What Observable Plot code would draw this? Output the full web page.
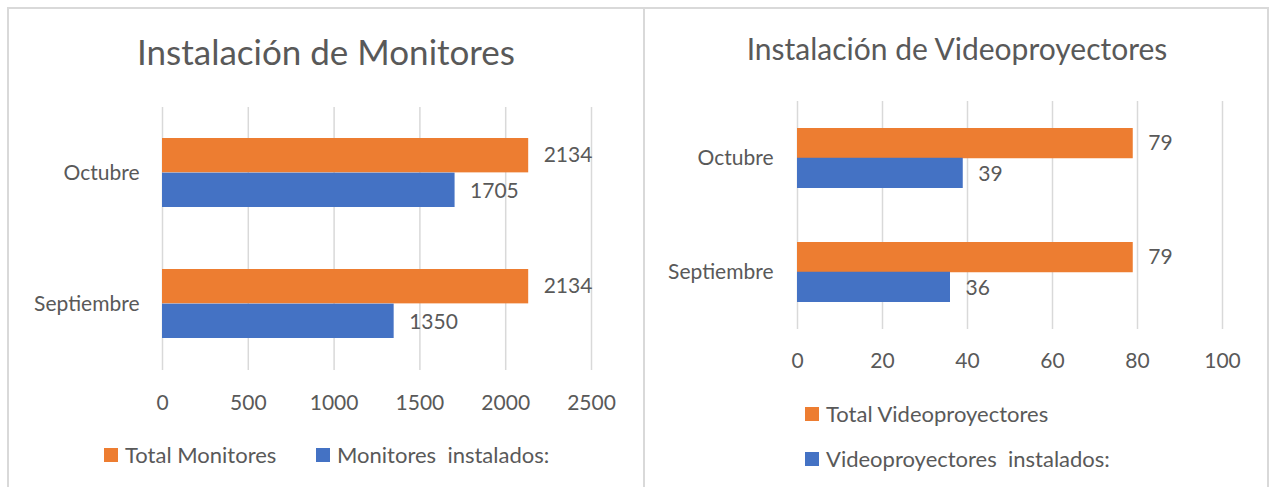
<!DOCTYPE html>
<html>
<head>
<meta charset="utf-8">
<script src="https://cdn.jsdelivr.net/npm/d3@7"></script>
<script src="https://cdn.jsdelivr.net/npm/@observablehq/plot@0.6"></script>
<style>
  html, body { margin: 0; padding: 0; background: #fff; }
  body { width: 1270px; height: 487px; position: relative; overflow: hidden; font-family: Lato, "Open Sans", sans-serif; color: #595959; }
  .abs { position: absolute; }
  .line { position: absolute; background: #d9d9d9; }
  .title { position: absolute; white-space: nowrap; transform: translateX(-50%); color: #595959; line-height: 1; }
  .leg { position: absolute; white-space: pre; font-size: 22px; line-height: 1; color: #595959; display: flex; align-items: center; }
  .sw { width: 14px; height: 14px; display: inline-block; margin-right: 7px; }
</style>
</head>
<body>
<div class="line" style="left:8px; top:7px; width:1261px; height:2px;"></div>
<div class="line" style="left:7px; top:7px; width:2px; height:480px;"></div>
<div class="line" style="left:643px; top:7px; width:2px; height:480px;"></div>
<div class="line" style="left:1267px; top:7px; width:2px; height:480px;"></div>

<div id="t1" class="title" style="left:326px; top:34px; font-size:35px;"></div>
<div id="t2" class="title" style="left:957px; top:33px; font-size:30px;"></div>
<div id="c1" class="abs" style="left:0; top:0;"></div>
<div id="c2" class="abs" style="left:640px; top:0;"></div>

<script>
// ---- Data ----
const months = ["Octubre", "Septiembre"];

const monitorTitle = "Instalación de Monitores";
const monitorSeries = ["Total Monitores", "Monitores  instalados:"];
const monitorTotal = [2134, 2134];
const monitorInstalled = [1705, 1350];
const monitorTicks = [0, 500, 1000, 1500, 2000, 2500];

const videoTitle = "Instalación de Videoproyectores";
const videoSeries = ["Total Videoproyectores", "Videoproyectores  instalados:"];
const videoTotal = [79, 79];
const videoInstalled = [39, 36];
const videoTicks = [0, 20, 40, 60, 80, 100];

const ORANGE = "#ED7D31";
const BLUE = "#4472C4";
const TEXT = "#595959";
const GRID = "#d9d9d9";

document.getElementById("t1").textContent = monitorTitle;
document.getElementById("t2").textContent = videoTitle;

function panel({width, height, mL, mR, mT, mB, ticks, total, installed, pi, po, yPad, xPad}) {
  const rows = months.map((m, i) => ({month: m, total: total[i], installed: installed[i]}));
  const plotH = height - mT - mB;
  const step = plotH / (months.length - pi + 2 * po);
  const bw = step * (1 - pi);
  const half = bw / 2;
  return Plot.plot({
    width, height,
    marginLeft: mL, marginRight: mR, marginTop: mT, marginBottom: mB,
    style: {fontFamily: "Lato, 'Open Sans', sans-serif", fontSize: "21px", color: TEXT, background: "transparent", overflow: "visible"},
    x: {domain: [ticks[0], ticks[ticks.length - 1]], ticks, tickFormat: d => String(d), tickSize: 0, tickPadding: xPad, label: null},
    y: {domain: months, paddingInner: pi, paddingOuter: po, tickSize: 0, tickPadding: yPad, label: null},
    marks: [
      Plot.ruleX(ticks, {stroke: GRID, strokeWidth: 1.5}),
      Plot.barX(rows, {x: "total", y: "month", fill: ORANGE, insetBottom: half}),
      Plot.barX(rows, {x: "installed", y: "month", fill: BLUE, insetTop: half}),
      Plot.text(rows, {x: "total", y: "month", text: d => String(d.total), dx: 15, dy: -half / 2, textAnchor: "start", fill: TEXT}),
      Plot.text(rows, {x: "installed", y: "month", text: d => String(d.installed), dx: 15, dy: half / 2 + 1, textAnchor: "start", fill: TEXT})
    ]
  });
}

document.getElementById("c1").append(panel({
  width: 640, height: 420, mL: 162, mR: 49, mT: 107, mB: 50,
  ticks: monitorTicks, total: monitorTotal, installed: monitorInstalled,
  pi: 0.473, po: 0.237, yPad: 23, xPad: 25
}));
document.getElementById("c2").append(panel({
  width: 630, height: 420, mL: 157, mR: 48, mT: 101, mB: 91,
  ticks: videoTicks, total: videoTotal, installed: videoInstalled,
  pi: 0.478, po: 0.239, yPad: 24, xPad: 24
}));

// ---- Legends ----
function legendItem(label, color, left, top) {
  const d = document.createElement("div");
  d.className = "leg";
  d.style.left = left + "px";
  d.style.top = top + "px";
  const s = document.createElement("span");
  s.className = "sw";
  s.style.background = color;
  d.append(s, document.createTextNode(label));
  document.body.append(d);
}
legendItem(monitorSeries[0], ORANGE, 104, 444);
legendItem(monitorSeries[1], BLUE, 316, 444);
legendItem(videoSeries[0], ORANGE, 805, 403);
legendItem(videoSeries[1], BLUE, 805, 448);
</script>
</body>
</html>
